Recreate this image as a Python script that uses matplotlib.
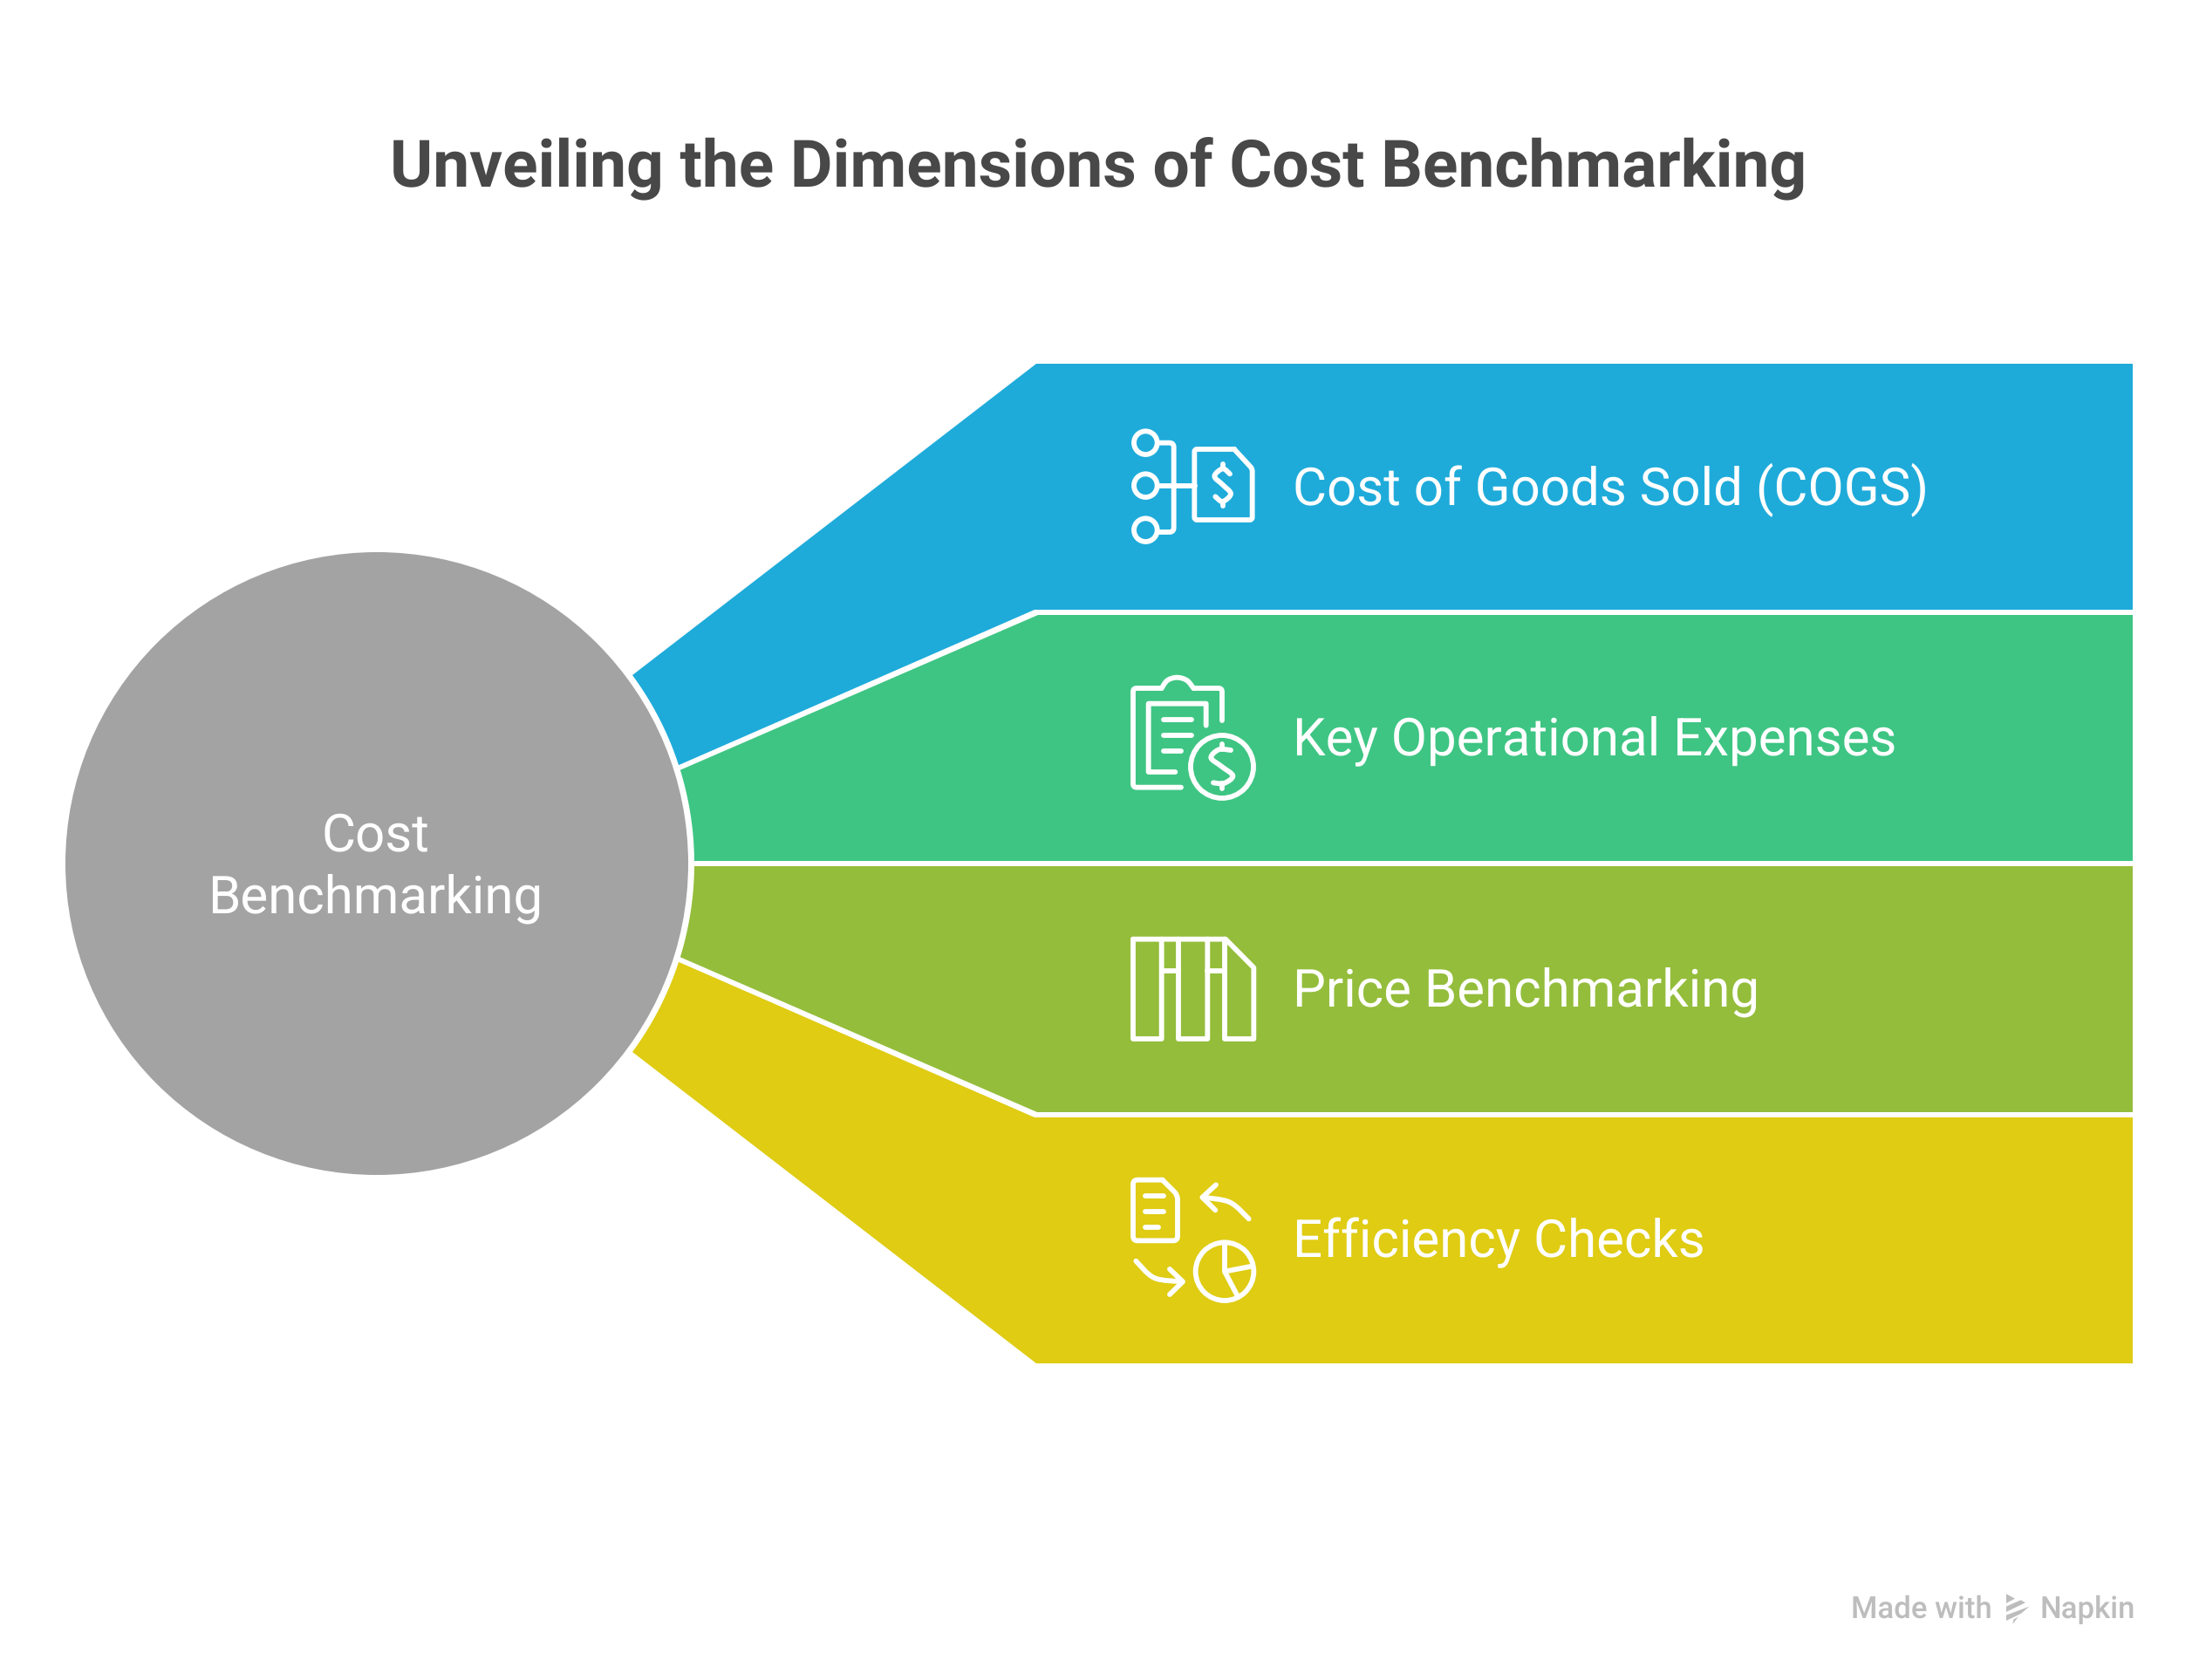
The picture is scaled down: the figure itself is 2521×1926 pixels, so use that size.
import numpy as np
import matplotlib
matplotlib.use("Agg")
import matplotlib.pyplot as plt
from matplotlib.path import Path
from matplotlib.patches import PathPatch, Circle, Polygon

title = "Unveiling the Dimensions of Cost Benchmarking"
center_label = ["Cost", "Benchmarking"]
categories = ["Cost of Goods Sold (COGS)", "Key Operational Expenses", "Price Benchmarking", "Efficiency Checks"]
band_colors = ["#1EABDA", "#3EC583", "#94BD3B", "#DFCC13"]
circle_color = "#A3A3A3"
title_color = "#484848"
footer_color = "#BDBDBD"

W, H = 2521, 1926
LW = 4.2

plt.rcParams["text.hinting"] = "no_hinting"
plt.rcParams["font.family"] = ["Roboto", "DejaVu Sans"]

fig = plt.figure(figsize=(W / 100, H / 100), dpi=100, facecolor="white")
ax = fig.add_axes([0, 0, 1, 1])
ax.set_xlim(0, W)
ax.set_ylim(H, 0)
ax.axis("off")

# circle and the four bands, all in pixel coords
cx, cy, r_gray, r_band = 432, 990, 357, 364
right = 2445


def arc_pts(p0, p1, n=40):
    a0 = np.arctan2(p0[1] - cy, p0[0] - cx)
    a1 = np.arctan2(p1[1] - cy, p1[0] - cx)
    a = np.linspace(a0, a1, n)
    return list(zip(cx + r_band * np.cos(a), cy + r_band * np.sin(a)))


bands = [
    ((725, 774), (777, 877.5), [(1186, 699), (right, 699), (right, 417), (1188, 417)]),
    ((779, 883), (795.5, 987), [(right, 987), (right, 705), (1190, 705)]),
    ((795.5, 993), (779, 1097), [(1189, 1275), (right, 1275), (right, 993)]),
    ((777, 1102.5), (725, 1206), [(1188, 1563), (right, 1563), (right, 1281), (1186, 1281)]),
]
for (p0, p1, rest), col in zip(bands, band_colors):
    ax.add_patch(Polygon(arc_pts(p0, p1) + rest, closed=True, facecolor=col, edgecolor="none"))

ax.add_patch(Circle((cx, cy), r_gray, facecolor=circle_color, edgecolor="none"))


# icon helpers, coords come from 3x crops so ox/oy shift them back
def line(pts, ox, oy, radius=0):
    pts = [(ox + x / 3, oy + y / 3) for x, y in pts]
    verts = [pts[0]]
    codes = [Path.MOVETO]
    for i in range(1, len(pts) - 1):
        p = np.array(pts[i])
        a = np.array(pts[i - 1])
        b = np.array(pts[i + 1])
        d1 = (a - p) / np.linalg.norm(a - p)
        d2 = (b - p) / np.linalg.norm(b - p)
        verts += [tuple(p + d1 * radius), tuple(p), tuple(p + d2 * radius)]
        codes += [Path.LINETO, Path.CURVE3, Path.CURVE3]
    verts.append(pts[-1])
    codes.append(Path.LINETO)
    ax.add_patch(PathPatch(Path(verts, codes), fill=False, edgecolor="white", lw=LW,
                           capstyle="round", joinstyle="round"))


def smooth(pts, ox, oy):
    pts = np.array([(ox + x / 3, oy + y / 3) for x, y in pts], dtype=float)
    p = np.vstack([pts[0], pts, pts[-1]])
    verts = [tuple(pts[0])]
    codes = [Path.MOVETO]
    for i in range(1, len(p) - 2):
        verts += [tuple(p[i] + (p[i + 1] - p[i - 1]) / 6), tuple(p[i + 1] - (p[i + 2] - p[i]) / 6), tuple(p[i + 1])]
        codes += [Path.CURVE4] * 3
    ax.add_patch(PathPatch(Path(verts, codes), fill=False, edgecolor="white", lw=LW, capstyle="round"))


def ring(x, y, r, ox, oy):
    ax.add_patch(Circle((ox + x / 3, oy + y / 3), r / 3, fill=False, edgecolor="white", lw=LW))


# icon 1
ox, oy = 1260, 460
for y in (143, 290, 443):
    ring(160, y, 40, ox, oy)
line([(205, 143), (257, 143), (257, 450), (205, 450)], ox, oy, 5)
line([(205, 290), (330, 290)], ox, oy)
line([(465, 165), (328, 165), (328, 408), (527, 408), (527, 232), (465, 165)], ox, oy, 3)
smooth([(450, 250), (425, 232), (397, 258), (425, 287), (453, 318), (425, 345), (400, 328)], ox, oy)
line([(425, 215), (425, 232)], ox, oy)
line([(425, 345), (425, 360)], ox, oy)

# icon 2
line([(423, 1098), (423, 987), (325, 987)], ox, oy, 4)
smooth([(325, 987), (302, 960), (268, 950), (235, 960), (215, 987)], ox, oy)
line([(215, 987), (117, 987), (117, 1328), (282, 1328)], ox, oy, 4)
line([(368, 1115), (368, 1040), (170, 1040), (170, 1275), (262, 1275)], ox, oy)
line([(222, 1095), (318, 1095)], ox, oy)
line([(222, 1148), (318, 1148)], ox, oy)
line([(222, 1202), (282, 1202)], ox, oy)
ring(423, 1257, 108, ox, oy)
smooth([(453, 1200), (412, 1198), (385, 1226), (420, 1255), (460, 1288), (430, 1314), (393, 1312)], ox, oy)
line([(423, 1180), (423, 1197)], ox, oy)
line([(423, 1314), (423, 1332)], ox, oy)

# icon 3
ox, oy = 1260, 1040
line([(117, 110), (435, 110), (532, 208), (532, 453), (432, 453), (432, 110)], ox, oy)
line([(117, 110), (117, 453), (215, 453), (215, 110)], ox, oy)
line([(273, 110), (273, 453), (373, 453), (373, 110)], ox, oy)
line([(215, 218), (273, 218)], ox, oy)
line([(373, 218), (432, 218)], ox, oy)

# icon 4
line([(218, 938), (117, 938), (117, 1147), (270, 1147), (270, 990), (218, 938)], ox, oy, 5)
line([(160, 992), (222, 992)], ox, oy)
line([(160, 1046), (222, 1046)], ox, oy)
line([(160, 1100), (205, 1100)], ox, oy)
smooth([(515, 1072), (450, 1015), (358, 998)], ox, oy)
line([(402, 955), (355, 998), (400, 1042)], ox, oy)
smooth([(127, 1217), (190, 1275), (285, 1288)], ox, oy)
line([(243, 1245), (288, 1288), (243, 1332)], ox, oy)
ring(432, 1253, 100, ox, oy)
line([(432, 1160), (432, 1253), (475, 1335)], ox, oy)
line([(432, 1253), (525, 1235)], ox, oy)

# text
ax.text(1259, 213, title, color=title_color, fontsize=53.9, fontweight="bold", ha="center", va="baseline")
label_y = [561, 849.5, 1137, 1425]
for name, y in zip(categories, label_y):
    ax.text(1482, y, name, color="white", fontsize=43.2, ha="left", va="center")
for name, y in zip(center_label, [958.5, 1030]):
    ax.text(430, y, name, color="white", fontsize=43.2, ha="center", va="center")

ax.text(2122, 1855, "Made with", color=footer_color, fontsize=25, fontweight="medium", ha="left", va="baseline")
ax.text(2338, 1855, "Napkin", color=footer_color, fontsize=25, fontweight="medium", ha="left", va="baseline")
logo = [
    [(600, 82), (630, 98), (600, 114)],
    [(600, 125), (650, 103), (666, 112), (600, 144)],
    [(600, 155), (680, 125), (650, 150), (600, 174)],
    [(622, 186), (642, 160), (625, 170)],
]
for poly in logo:
    ax.add_patch(Polygon([(2100 + x / 3, 1800 + y / 3) for x, y in poly], facecolor=footer_color, edgecolor="none"))

fig.savefig("out.png", dpi=100, facecolor="white")
